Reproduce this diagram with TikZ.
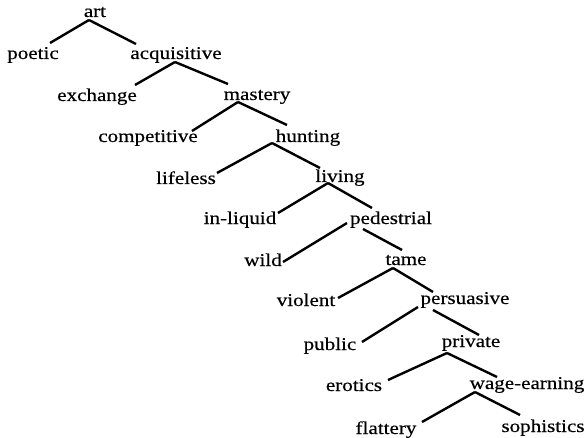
\documentclass[tikz,border=0pt]{standalone}
\usepackage{fontspec}
\setmainfont[FakeStretch=1.17,FakeBold=0.4]{Liberation Serif}
\begin{document}
\begin{tikzpicture}[x=0.5pt,y=-0.5pt,
  lbl/.style={anchor=base,inner sep=0pt,font=\fontsize{9}{11}\selectfont},
  edge/.style={line width=1.2pt}]
\useasboundingbox (0,0) rectangle (588,438);
% labels (x center, baseline)
\node[lbl] (art) at (95,17) {art};
\node[lbl] (poetic) at (33,59) {poetic};
\node[lbl] (acquisitive) at (176,59) {acquisitive};
\node[lbl] (exchange) at (97,101) {exchange};
\node[lbl] (mastery) at (257,100) {mastery};
\node[lbl] (competitive) at (148,142) {competitive};
\node[lbl] (hunting) at (308,142) {hunting};
\node[lbl] (lifeless) at (186,184) {lifeless};
\node[lbl] (living) at (340,182) {living};
\node[lbl] (inliquid) at (240,224) {in-liquid};
\node[lbl] (pedestrial) at (391,224) {pedestrial};
\node[lbl] (wild) at (263,266) {wild};
\node[lbl] (tame) at (406,265) {tame};
\node[lbl] (violent) at (306,306) {violent};
\node[lbl] (persuasive) at (465,304) {persuasive};
\node[lbl] (public) at (330,350) {public};
\node[lbl] (private) at (471,347) {private};
\node[lbl] (erotics) at (354,391) {erotics};
\node[lbl] (wageearning) at (527,389) {wage-earning};
\node[lbl] (flattery) at (386,434) {flattery};
\node[lbl] (sophistics) at (543,432) {sophistics};
% branch points (left and right starts) and line ends
\coordinate (art-pl) at (89,20);         \coordinate (art-pr) at (89,20);
\coordinate (poetic-e) at (50,43);
\coordinate (acquisitive-e) at (136,44);
\coordinate (acquisitive-pl) at (175,62); \coordinate (acquisitive-pr) at (175,62);
\coordinate (exchange-e) at (135,85);
\coordinate (mastery-e) at (228,84);
\coordinate (mastery-pl) at (238,102);    \coordinate (mastery-pr) at (238,102);
\coordinate (competitive-e) at (192,131);
\coordinate (hunting-e) at (287,125);
\coordinate (hunting-pl) at (272,143);    \coordinate (hunting-pr) at (272,143);
\coordinate (lifeless-e) at (217,173);
\coordinate (living-e) at (320,168);
\coordinate (living-pl) at (328,183);     \coordinate (living-pr) at (328,183);
\coordinate (inliquid-e) at (278,213);
\coordinate (pedestrial-e) at (372,208);
\coordinate (pedestrial-pl) at (347,223); \coordinate (pedestrial-pr) at (363,229);
\coordinate (wild-e) at (283,262);
\coordinate (tame-e) at (402,250);
\coordinate (tame-pl) at (393,268);       \coordinate (tame-pr) at (393,268);
\coordinate (violent-e) at (338,298);
\coordinate (persuasive-e) at (433,292);
\coordinate (persuasive-pl) at (418,307); \coordinate (persuasive-pr) at (433,310);
\coordinate (public-e) at (362,342);
\coordinate (private-e) at (479,335);
\coordinate (private-pl) at (447,353);    \coordinate (private-pr) at (447,353);
\coordinate (erotics-e) at (388,380);
\coordinate (wageearning-e) at (497,377);
\coordinate (wageearning-pl) at (475,392); \coordinate (wageearning-pr) at (475,392);
\coordinate (flattery-e) at (422,422);
\coordinate (sophistics-e) at (520,415);
% connectors
\foreach \p/\l/\r in {art/poetic/acquisitive,acquisitive/exchange/mastery,
  mastery/competitive/hunting,hunting/lifeless/living,living/inliquid/pedestrial,
  pedestrial/wild/tame,tame/violent/persuasive,persuasive/public/private,
  private/erotics/wageearning,wageearning/flattery/sophistics}
  {\draw[edge] (\l-e) -- (\p-pl); \draw[edge] (\p-pr) -- (\r-e);}
\end{tikzpicture}
\end{document}
